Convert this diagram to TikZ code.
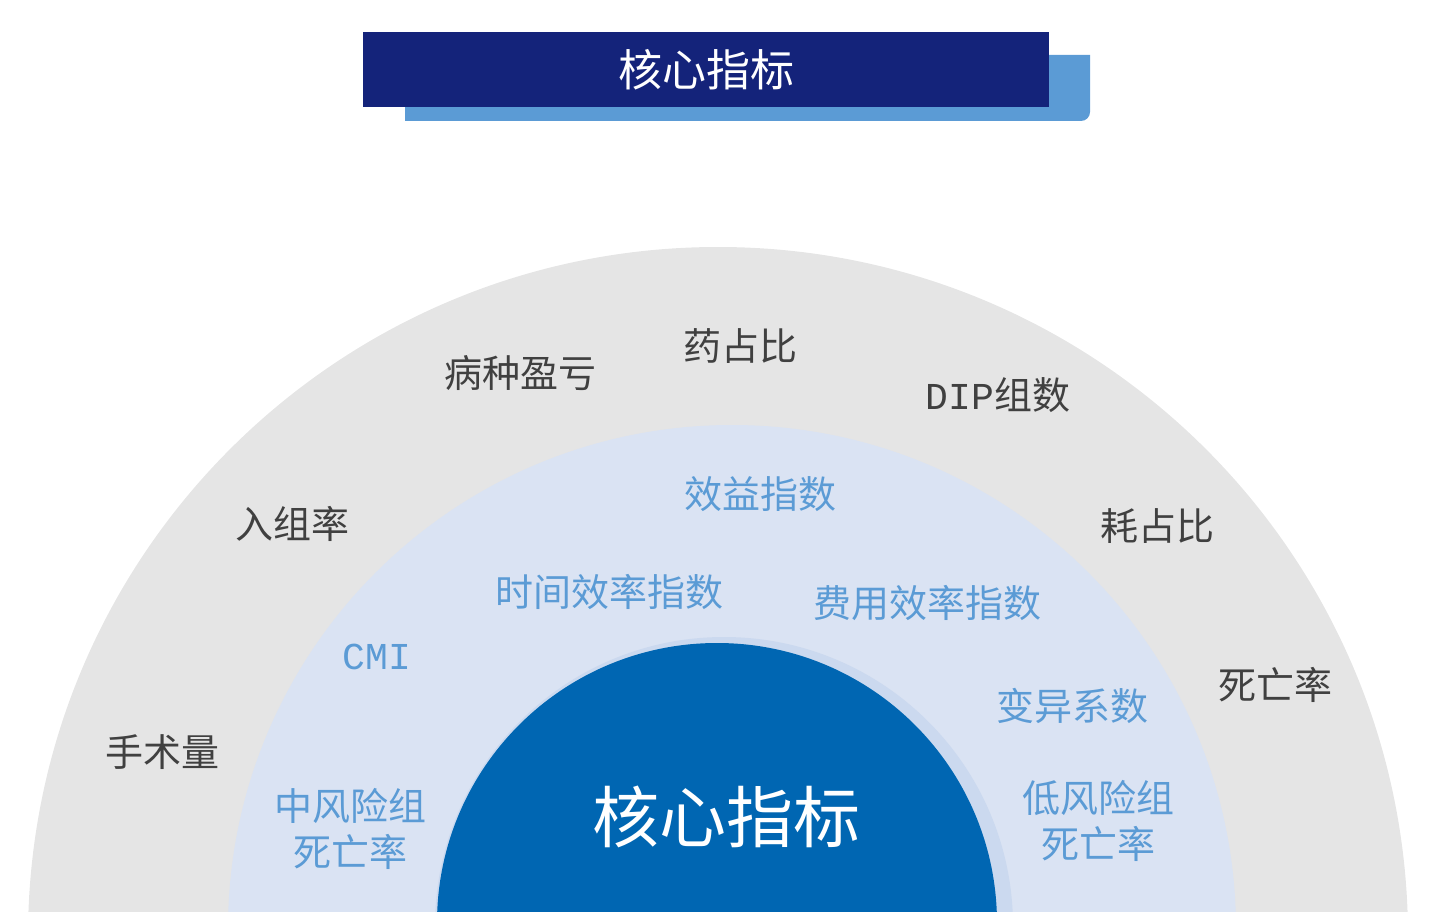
\documentclass[tikz,border=0pt]{standalone}
\usepackage{fontspec}
\setmainfont{Noto Sans CJK SC}
\setmonofont{Liberation Mono}
\usepackage{tikz}
\definecolor{titlenavy}{RGB}{20,35,122}
\definecolor{titleshadow}{RGB}{91,155,213}
\definecolor{outergray}{RGB}{229,229,229}
\definecolor{middleblue}{RGB}{218,227,243}
\definecolor{ringblue}{RGB}{203,217,239}
\definecolor{coreblue}{RGB}{0,102,178}
\definecolor{darktext}{RGB}{64,64,64}
\definecolor{bluetext}{RGB}{91,155,213}

\tikzset{
  outerlabel/.style={text=darktext, inner sep=0pt, font=\fontsize{38}{46}\selectfont},
  innerlabel/.style={text=bluetext, inner sep=0pt, align=center, font=\fontsize{38}{46}\selectfont},
  titlebox/.style={fill=titlenavy, text=white, minimum width=686pt, minimum height=75pt,
    inner sep=0pt, font=\fontsize{44}{50}\selectfont}
}

\begin{document}
\begin{tikzpicture}[x=1pt,y=-1pt]
            \useasboundingbox (0,0) rectangle (1430,912);
            \clip (0,0) rectangle (1430,912);

            % Title banner with shadow
            \fill[titleshadow] (405,55) -- (1090,55) [rounded corners=9pt]-- (1090,121) [sharp corners]-- (405,121) -- cycle;
            \node[titlebox] (title) at (706,69.5) {核心指标};

            % Half rings
            \fill[outergray] (718,937) circle [radius=690pt];
            \fill[middleblue] (732,929) circle [radius=504pt];
            \fill[ringblue] (724,926) circle [radius=289pt];
            \fill[coreblue] (717,923) circle [radius=280pt];

            % Outer ring labels
            \node[outerlabel] (bzyk) at (520,373) {病种盈亏};
            \node[outerlabel] (yzb) at (740,346) {药占比};
            \node[outerlabel] (dip) at (998,395) {\texttt{DIP}组数};
            \node[outerlabel] (rzl) at (292,524) {入组率};
            \node[outerlabel] (hzb) at (1157,526) {耗占比};
            \node[outerlabel] (swl) at (1275,685) {死亡率};
            \node[outerlabel] (ssl) at (162,752) {手术量};

            % Middle ring labels
            \node[innerlabel] (xyzs) at (760,494) {效益指数};
            \node[innerlabel] (sjxl) at (609,592) {时间效率指数};
            \node[innerlabel] (fyxl) at (927,603) {费用效率指数};
            \node[innerlabel] (cmi) at (377,657) {\texttt{CMI}};
            \node[innerlabel] (byxs) at (1072,706) {变异系数};
            \node[innerlabel] (zfx) at (350,829) {中风险组\\死亡率};
            \node[innerlabel] (dfx) at (1098,821) {低风险组\\死亡率};

            % Core
            \node[text=white, inner sep=0pt, font=\fontsize{67}{70}\selectfont] (core) at (726,817) {核心指标};
\end{tikzpicture}
\end{document}
